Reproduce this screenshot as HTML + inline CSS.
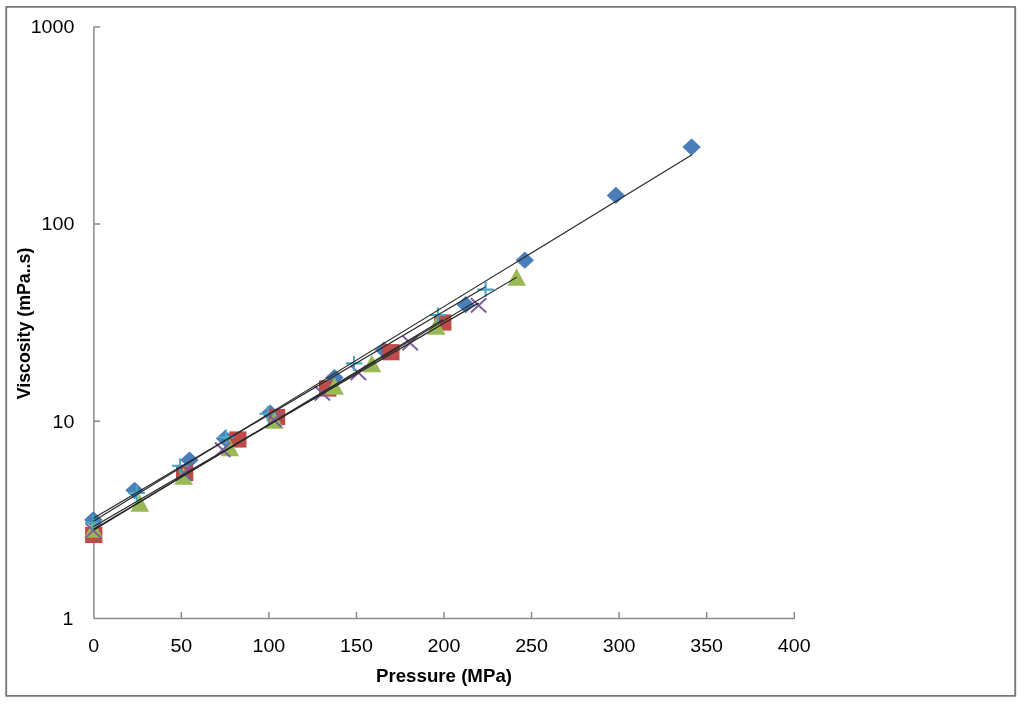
<!DOCTYPE html><html><head><meta charset="utf-8"><style>html,body{margin:0;padding:0;background:#fff;width:1024px;height:704px;overflow:hidden}svg{display:block;will-change:transform}text{font-family:"Liberation Sans",sans-serif}</style></head><body>
<svg width="1024" height="704" viewBox="0 0 1024 704">
<rect x="0" y="0" width="1024" height="704" fill="#fff"/>
<rect x="6.2" y="6.9" width="1009" height="689" fill="#fff" stroke="#787878" stroke-width="1.9" stroke-linejoin="round"/>
<path d="M100.2 26.90H93.9V618.6H794.3V612" fill="none" stroke="#8c8c8c" stroke-width="1.5" stroke-linejoin="round"/>
<path d="M93.9 421.30H100.2 M93.9 224.10H100.2 M181.35 618.6V612 M268.90 618.6V612 M356.45 618.6V612 M444.00 618.6V612 M531.55 618.6V612 M619.10 618.6V612 M706.65 618.6V612" fill="none" stroke="#8c8c8c" stroke-width="1.5"/>
<text transform="translate(73.4 624.80) scale(1.035 1)" font-size="19" text-anchor="end" fill="#000">1</text>
<text transform="translate(74.4 427.60) scale(1.035 1)" font-size="19" text-anchor="end" fill="#000">10</text>
<text transform="translate(74.4 230.40) scale(1.035 1)" font-size="19" text-anchor="end" fill="#000">100</text>
<text transform="translate(74.4 33.20) scale(1.035 1)" font-size="19" text-anchor="end" fill="#000">1000</text>
<text transform="translate(93.80 651.6) scale(1.035 1)" font-size="19" text-anchor="middle" fill="#000">0</text>
<text transform="translate(181.35 651.6) scale(1.035 1)" font-size="19" text-anchor="middle" fill="#000">50</text>
<text transform="translate(268.90 651.6) scale(1.035 1)" font-size="19" text-anchor="middle" fill="#000">100</text>
<text transform="translate(356.45 651.6) scale(1.035 1)" font-size="19" text-anchor="middle" fill="#000">150</text>
<text transform="translate(444.00 651.6) scale(1.035 1)" font-size="19" text-anchor="middle" fill="#000">200</text>
<text transform="translate(531.55 651.6) scale(1.035 1)" font-size="19" text-anchor="middle" fill="#000">250</text>
<text transform="translate(619.10 651.6) scale(1.035 1)" font-size="19" text-anchor="middle" fill="#000">300</text>
<text transform="translate(706.65 651.6) scale(1.035 1)" font-size="19" text-anchor="middle" fill="#000">350</text>
<text transform="translate(794.20 651.6) scale(1.035 1)" font-size="19" text-anchor="middle" fill="#000">400</text>
<text transform="translate(444 681.6) scale(1.068 1)" font-size="17.5" font-weight="bold" text-anchor="middle" fill="#000">Pressure (MPa)</text>
<text transform="translate(30.3 323.5) rotate(-90)" x="0" y="0" font-size="17.75" font-weight="bold" text-anchor="middle" fill="#000">Viscosity (mPa..s)</text>
<path d="M93.3 511.2L102.5 519.8L93.3 528.4L84.1 519.8Z" fill="#4a7ebb"/>
<path d="M134.6 481.7L143.8 490.3L134.6 498.9L125.4 490.3Z" fill="#4a7ebb"/>
<path d="M189.5 451.4L198.7 460.0L189.5 468.6L180.3 460.0Z" fill="#4a7ebb"/>
<path d="M225.0 429.9L234.2 438.5L225.0 447.1L215.8 438.5Z" fill="#4a7ebb"/>
<path d="M270.1 404.4L279.3 413.0L270.1 421.6L260.9 413.0Z" fill="#4a7ebb"/>
<path d="M334.4 368.9L343.6 377.5L334.4 386.1L325.2 377.5Z" fill="#4a7ebb"/>
<path d="M384.0 341.4L393.2 350.0L384.0 358.6L374.8 350.0Z" fill="#4a7ebb"/>
<path d="M465.7 296.1L474.9 304.7L465.7 313.3L456.5 304.7Z" fill="#4a7ebb"/>
<path d="M524.8 251.6L534.0 260.2L524.8 268.8L515.6 260.2Z" fill="#4a7ebb"/>
<path d="M615.9 186.8L625.1 195.4L615.9 204.0L606.7 195.4Z" fill="#4a7ebb"/>
<path d="M691.6 138.5L700.8 147.1L691.6 155.7L682.4 147.1Z" fill="#4a7ebb"/>
<rect x="85.1" y="526.8" width="17.3" height="16.2" fill="#be4b48"/>
<rect x="176.0" y="464.9" width="17.3" height="16.2" fill="#be4b48"/>
<rect x="229.2" y="431.4" width="17.3" height="16.2" fill="#be4b48"/>
<rect x="267.9" y="408.9" width="17.3" height="16.2" fill="#be4b48"/>
<rect x="319.0" y="380.4" width="17.3" height="16.2" fill="#be4b48"/>
<rect x="382.2" y="344.1" width="17.3" height="16.2" fill="#be4b48"/>
<rect x="434.1" y="314.4" width="17.3" height="16.2" fill="#be4b48"/>
<path d="M93.5 520.3L102.8 537.7L84.2 537.7Z" fill="#98b954"/>
<path d="M139.8 494.3L149.1 511.7L130.5 511.7Z" fill="#98b954"/>
<path d="M183.6 467.3L192.9 484.7L174.3 484.7Z" fill="#98b954"/>
<path d="M229.8 438.9L239.1 456.3L220.5 456.3Z" fill="#98b954"/>
<path d="M274.5 411.3L283.8 428.7L265.2 428.7Z" fill="#98b954"/>
<path d="M334.5 377.3L343.8 394.7L325.2 394.7Z" fill="#98b954"/>
<path d="M371.9 354.8L381.2 372.2L362.6 372.2Z" fill="#98b954"/>
<path d="M436.2 317.3L445.5 334.7L426.9 334.7Z" fill="#98b954"/>
<path d="M516.6 268.3L525.9 285.7L507.3 285.7Z" fill="#98b954"/>
<path d="M85.6 523.3L101.0 537.7M101.0 523.3L85.6 537.7" stroke="#7d60a0" stroke-width="2.0" fill="none"/>
<path d="M175.8 465.8L191.2 480.2M191.2 465.8L175.8 480.2" stroke="#7d60a0" stroke-width="2.0" fill="none"/>
<path d="M215.0 442.5L230.4 456.9M230.4 442.5L215.0 456.9" stroke="#7d60a0" stroke-width="2.0" fill="none"/>
<path d="M265.9 412.6L281.3 427.0M281.3 412.6L265.9 427.0" stroke="#7d60a0" stroke-width="2.0" fill="none"/>
<path d="M314.7 386.0L330.1 400.4M330.1 386.0L314.7 400.4" stroke="#7d60a0" stroke-width="2.0" fill="none"/>
<path d="M350.7 365.6L366.1 380.0M366.1 365.6L350.7 380.0" stroke="#7d60a0" stroke-width="2.0" fill="none"/>
<path d="M402.5 335.8L417.9 350.2M417.9 335.8L402.5 350.2" stroke="#7d60a0" stroke-width="2.0" fill="none"/>
<path d="M470.9 298.2L486.3 312.6M486.3 298.2L470.9 312.6" stroke="#7d60a0" stroke-width="2.0" fill="none"/>
<path d="M85.1 522.5H101.5M93.3 515.0V530.0" stroke="#46aac5" stroke-width="2.1" fill="none"/>
<path d="M128.5 492.9H144.9M136.7 485.4V500.4" stroke="#46aac5" stroke-width="2.1" fill="none"/>
<path d="M171.9 465.8H188.3M180.1 458.3V473.3" stroke="#46aac5" stroke-width="2.1" fill="none"/>
<path d="M217.8 437.1H234.2M226.0 429.6V444.6" stroke="#46aac5" stroke-width="2.1" fill="none"/>
<path d="M259.4 413.7H275.8M267.6 406.2V421.2" stroke="#46aac5" stroke-width="2.1" fill="none"/>
<path d="M345.8 363.4H362.2M354.0 355.9V370.9" stroke="#46aac5" stroke-width="2.1" fill="none"/>
<path d="M429.6 315.0H446.0M437.8 307.5V322.5" stroke="#46aac5" stroke-width="2.1" fill="none"/>
<path d="M477.4 289.6H493.8M485.6 282.1V297.1" stroke="#46aac5" stroke-width="2.1" fill="none"/>
<path d="M93.3 521.22L691.6 154.96" stroke="#2a2a2a" stroke-width="1.2" fill="none"/>
<path d="M93.8 529.88L442.7 319.69" stroke="#2a2a2a" stroke-width="1.2" fill="none"/>
<path d="M93.5 529.38L516.6 277.23" stroke="#2a2a2a" stroke-width="1.2" fill="none"/>
<path d="M93.3 526.72L478.6 303.12" stroke="#2a2a2a" stroke-width="1.2" fill="none"/>
<path d="M93.3 518.34L485.6 286.81" stroke="#2a2a2a" stroke-width="1.2" fill="none"/>
</svg></body></html>
